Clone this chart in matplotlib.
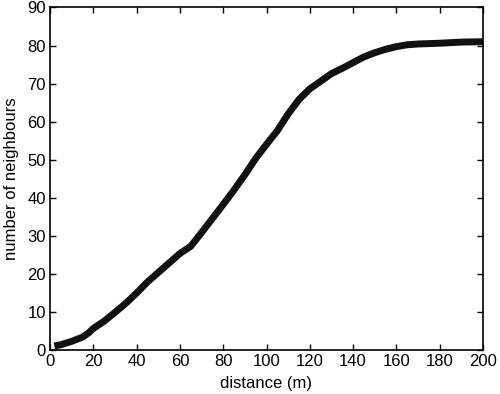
import matplotlib
matplotlib.use('Agg')
import matplotlib.pyplot as plt

distance = [2, 5, 10, 15, 18, 20, 25, 30, 35, 40, 45, 50, 55, 60, 65, 70,
            75, 80, 85, 90, 95, 100, 105, 110, 115, 120, 125, 130, 135, 140,
            145, 150, 155, 160, 165, 170, 180, 190, 200]
neighbours = [1.0, 1.3, 2.2, 3.3, 4.5, 5.6, 7.5, 9.8, 12.2, 14.9, 17.8, 20.3,
              22.8, 25.3, 27.2, 30.8, 34.5, 38.2, 42.0, 46.0, 50.3, 54.0, 57.6,
              62.0, 65.8, 68.6, 70.6, 72.6, 74.0, 75.5, 77.0, 78.1, 79.0,
              79.7, 80.2, 80.4, 80.6, 80.9, 81.0]


def draw():
    plt.rcParams['font.family'] = ['Liberation Sans', 'DejaVu Sans']
    fig = plt.figure(figsize=(5, 3.94), dpi=100)
    ax = fig.add_axes([0.1, 0.1124, 0.866, 0.8686])

    ax.plot(distance, neighbours, linestyle='-', color='#111111', linewidth=5,
            solid_capstyle='butt')

    ax.set_xlim(0, 200)
    ax.set_ylim(0, 90)
    ax.set_xticks(range(0, 201, 20))
    ax.set_yticks(range(0, 91, 10))
    ax.tick_params(direction='in', top=True, right=True, length=4, width=1,
                   labelsize=12, pad=3)
    for s in ax.spines.values():
        s.set_linewidth(1.2)

    ax.set_xlabel('distance (m)', fontsize=12, labelpad=5)
    ax.set_ylabel('number of neighbours', fontsize=12, labelpad=6)

    fig.savefig('out.png', dpi=100)


def main():
    draw()


if __name__ == "__main__":
    main()
